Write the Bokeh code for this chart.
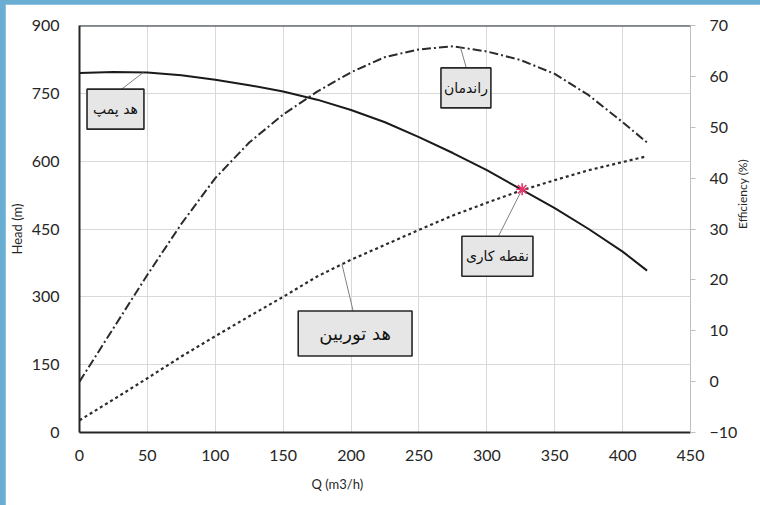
import numpy as np
from bokeh.plotting import figure
from bokeh.models import Range1d, LinearAxis, FixedTicker, Label, Span, Title
from bokeh.embed import file_html
from bokeh.resources import INLINE

# ---- data ----
Q = [0, 25, 50, 75, 100, 125, 150, 175, 200, 225, 250, 275, 300, 325, 350, 375, 400, 418]
H_PUMP = [795, 797, 796, 790, 780, 768, 754, 736, 713, 686, 653, 618, 580, 538, 496, 450, 400, 358]
EFF = [0, 10.5, 21, 31, 40, 47, 52.5, 57, 60.8, 63.8, 65.3, 65.9, 64.9, 63.2, 60.5, 56.3, 51, 47]
H_TURB = [27, 73, 120, 168, 213, 257, 300, 345, 382, 415, 448, 480, 508, 535, 558, 580, 598, 611]
WP_Q = [326]
WP_H = [538]

X_TICKS = [0, 50, 100, 150, 200, 250, 300, 350, 400, 450]
H_TICKS = [0, 150, 300, 450, 600, 750, 900]
E_TICKS = [-10, 0, 10, 20, 30, 40, 50, 60, 70]

LBL_PUMP = "هد پمپ"
LBL_EFF = "راندمان"
LBL_WP = "نقطه کاری"
LBL_TURB = "هد توربین"

TXT = "#262626"
NUM_FONT = "Lato"
AR_FONT = "DejaVu Sans"
FRAME_BLUE = "#6aaed4"

p = figure(width=755, height=501, x_range=Range1d(0, 450), y_range=Range1d(0, 900),
           output_backend="svg", toolbar_location=None,
           min_border_left=72, min_border_right=67, min_border_top=21, min_border_bottom=73)
p.styles = {"margin-left": "5px", "margin-top": "4px"}
p.extra_y_ranges = {"eff": Range1d(-10, 70)}
p.outline_line_color = None
p.background_fill_color = "white"
p.border_fill_color = "white"

p.xgrid.ticker = FixedTicker(ticks=X_TICKS)
p.ygrid.ticker = FixedTicker(ticks=H_TICKS)
p.xgrid.grid_line_color = "#d9d9d9"
p.ygrid.grid_line_color = "#d9d9d9"

xa = p.xaxis[0]
xa.ticker = FixedTicker(ticks=X_TICKS)
ya = p.yaxis[0]
ya.ticker = FixedTicker(ticks=H_TICKS)
for ax, so in ((xa, 17), (ya, 20)):
    ax.axis_line_color = TXT
    ax.axis_line_width = 2
    ax.major_tick_out = 0
    ax.major_tick_in = 0
    ax.minor_tick_line_color = None
    ax.major_label_standoff = so
    ax.major_label_text_font = NUM_FONT
    ax.major_label_text_font_size = "16px"
    ax.major_label_text_color = TXT

ya.axis_label = "Head (m)"
ya.axis_label_standoff = 4
ya.axis_label_text_font = NUM_FONT
ya.axis_label_text_font_size = "13px"
ya.axis_label_text_font_style = "normal"
ya.axis_label_text_color = TXT

ra = LinearAxis(y_range_name="eff", ticker=FixedTicker(ticks=E_TICKS))
ra.axis_line_color = "#bfbfbf"
ra.axis_line_width = 1
ra.major_tick_out = 5
ra.major_tick_in = 0
ra.major_tick_line_color = "#bfbfbf"
ra.minor_tick_line_color = None
ra.major_label_standoff = 14
ra.major_label_text_font = NUM_FONT
ra.major_label_text_font_size = "16px"
ra.major_label_text_color = TXT
ra.axis_label = "Efficiency  (%)"
ra.axis_label_standoff = 2
ra.axis_label_text_font = NUM_FONT
ra.axis_label_text_font_size = "12px"
ra.axis_label_text_font_style = "normal"
ra.axis_label_text_color = TXT
if "axis_label_orientation" in ra.properties():
    ra.axis_label_orientation = float(np.pi / 2)
p.add_layout(ra, "right")

p.add_layout(Title(text="Q (m3/h)", align="left", offset=232, standoff=21,
                   text_font=NUM_FONT, text_font_size="13px", text_font_style="normal",
                   text_color=TXT), "below")

p.add_layout(Span(location=900, dimension="width", line_color=TXT, line_width=2))

# curves
p.line(Q, H_PUMP, line_color="#1a1a1a", line_width=2)
p.line(Q, EFF, y_range_name="eff", line_color="#2b2b2b", line_width=2, line_dash="9 3 2 3")
p.line(Q, H_TURB, line_color="#2b2b2b", line_width=2.2, line_dash="3 3")

# leader lines
LEAD = "#808080"
q1 = 47
p.segment(x0=[q1], y0=[float(np.interp(q1, Q, H_PUMP))], x1=[28.7], y1=[754], line_color=LEAD, line_width=1)
q2 = 280.6
p.segment(x0=[q2], y0=[float(np.interp(q2, Q, EFF))], x1=[285.5], y1=[61.1], y_range_name="eff",
          line_color=LEAD, line_width=1)
p.segment(x0=WP_Q, y0=WP_H, x1=[307.9], y1=[430], line_color=LEAD, line_width=1)
q4 = 193.3
p.segment(x0=[q4], y0=[float(np.interp(q4, Q, H_TURB))], x1=[201.8], y1=[265.3], line_color=LEAD, line_width=1)

p.scatter(WP_Q, WP_H, marker="asterisk", size=12, line_color="#e8336b", line_width=1.6)

def box(x, y, text, size, pad):
    p.add_layout(Label(x=x, y=y, text=text, text_align="center", text_baseline="middle",
                       text_font=AR_FONT, text_font_size=size, text_color="#111111",
                       background_fill_color="#e6e6e6", border_line_color=TXT, border_line_width=1.6,
                       padding=pad))

box(26.5, 715, LBL_PUMP, "14px", (6, 12))
box(284.6, 762, LBL_EFF, "14px", (3, 12))
box(307.8, 389.7, LBL_WP, "14px", (4, 12))
box(203, 219, LBL_TURB, "18px", (21, 12))

html = file_html(p, INLINE)
html = html.replace("</head>", "<style>html, body { background-color: %s !important; }</style></head>" % FRAME_BLUE, 1)
open("out.html", "w").write(html)
